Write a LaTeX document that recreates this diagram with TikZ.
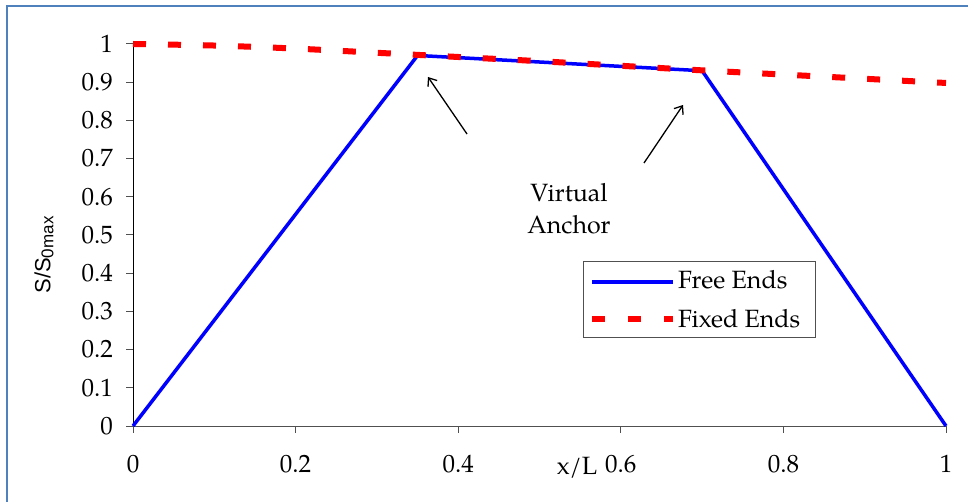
\documentclass[tikz,border=0pt]{standalone}
\usepackage{fontspec}
\setmainfont{texgyrepagella}[Extension=.otf,UprightFont=*-regular]
\newfontfamily\labelsans{Liberation Sans}
\usetikzlibrary{arrows.meta}
\definecolor{frameblue}{RGB}{79,129,189}
\definecolor{axisgray}{RGB}{80,80,80}
\tikzset{
  frameline/.style={draw=frameblue,line width=2.2pt},
  axisline/.style={draw=axisgray,line width=1pt},
  ticklabel/.style={font=\fontsize{25}{28}\selectfont,inner sep=0pt},
  freeline/.style={draw=blue,line width=3.5pt,line join=round},
  fixedline/.style={draw=red,line width=6pt,dash pattern=on 13pt off 22pt},
  pointer/.style={draw=black,line width=1.3pt,-{Straight Barb[length=7pt,width=11pt,line width=1.3pt]}},
  legendbox/.style={draw=axisgray,line width=1pt,minimum width=232pt,minimum height=76pt,inner sep=0pt},
  legendtext/.style={font=\fontsize{25}{28}\selectfont,inner sep=0pt,anchor=base west},
  annot/.style={font=\fontsize{25}{32}\selectfont,align=center,inner sep=0pt}
}
\begin{document}
\begin{tikzpicture}[x=1pt,y=-1pt]
\useasboundingbox (0,0) rectangle (968,502);
\begin{scope}
\clip (0,0) rectangle (968,502);
\draw[frameline] (7,6) rectangle (990,520);
\end{scope}
% axes
\coordinate (O) at (133,426);
\coordinate (Ytop) at (133,44);
\coordinate (Xend) at (946,426);
\draw[axisline,draw=black] (O) -- (Ytop);
\draw[axisline] (O) -- (Xend);
% y ticks
\foreach \v/\t in {0/0,1/0.1,2/0.2,3/0.3,4/0.4,5/0.5,6/0.6,7/0.7,8/0.8,9/0.9,10/1}{
  \coordinate (yt\v) at (133,{426-38.2*\v});
  \draw[axisline] (yt\v) -- ++(-7,0);
  \node[ticklabel,anchor=east] (yl\v) at ({113},{426-38.2*\v}) {\t};
}
% x ticks
\foreach \u/\t in {0/0,2/0.2,4/0.4,6/0.6,8/0.8,10/1}{
  \coordinate (xt\u) at ({133+81.3*\u},426);
  \draw[axisline] (xt\u) -- ++(0,7);
  \node[ticklabel] (xl\u) at ({133+81.3*\u},464) {\t};
}
% axis titles
\node[font=\fontsize{25}{28}\selectfont,inner sep=0pt] (xtitle) at (577,468) {x/L};
\node[rotate=90,inner sep=0pt] (ytitle) at (44,255) {\labelsans\fontsize{22}{26}\selectfont S/S\raisebox{-0.25ex}{\fontsize{17}{20}\selectfont 0max}};
% data
\begin{scope}[xshift=133pt,yshift=-426pt,x=813pt,y=382pt]
  \coordinate (f0) at (0,0);
  \coordinate (f1) at (0.35,0.97);
  \coordinate (f2) at (0.70,0.93);
  \coordinate (f3) at (1,0);
  \draw[freeline] (f0) -- (f1) -- (f2) -- (f3);
  \draw[fixedline] plot[smooth] coordinates {(0,1) (0.1,0.996) (0.2,0.988) (0.3,0.977) (0.4,0.966) (0.5,0.955) (0.6,0.943) (0.7,0.931) (0.8,0.92) (0.9,0.909) (1,0.898)};
\end{scope}
% annotation
\node[annot] (anchor) at (569,209) {Virtual\\Anchor};
\coordinate (a1tail) at (467,134);
\coordinate (a1head) at (428,77);
\coordinate (a2tail) at (644,163);
\coordinate (a2head) at (683,105);
\draw[pointer] (a1tail) -- (a1head);
\draw[pointer] (a2tail) -- (a2head);
% legend
\node[legendbox,anchor=north west] (legend) at (583,261) {};
\coordinate (lf0) at (592,282);
\coordinate (lf1) at (673,282);
\coordinate (lx0) at (592,319);
\coordinate (lx1) at (673,319);
\draw[freeline] (lf0) -- (lf1);
\draw[fixedline,dash pattern=on 13pt off 23pt] (lx0) -- (lx1);
\node[legendtext] (lt1) at (678,289) {Free Ends};
\node[legendtext] (lt2) at (678,327) {Fixed Ends};
\end{tikzpicture}
\end{document}
